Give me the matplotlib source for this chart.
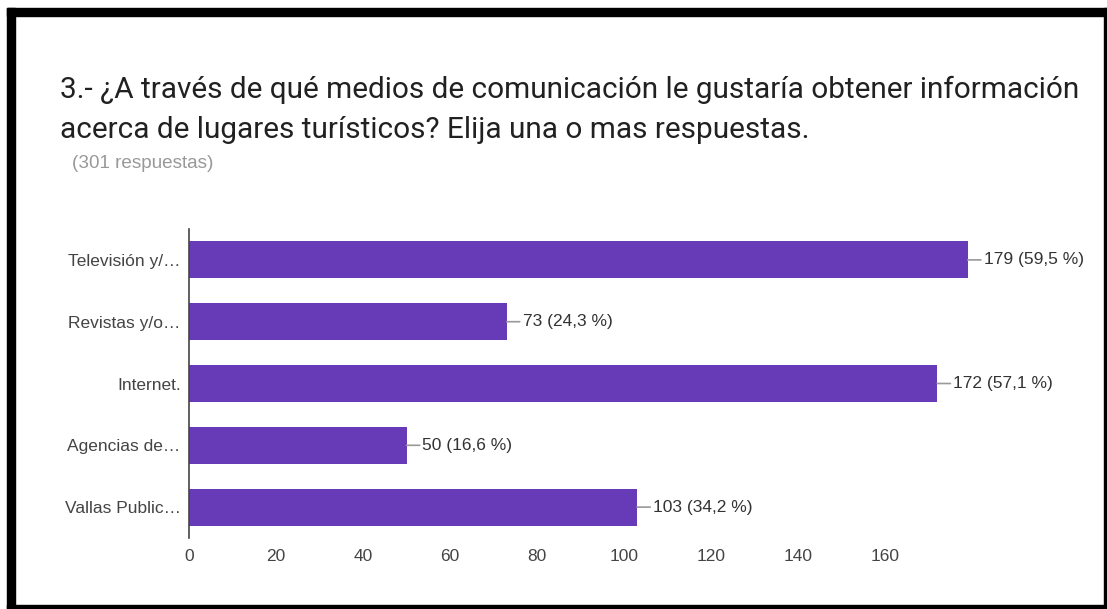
import matplotlib
matplotlib.use("Agg")
import matplotlib.pyplot as plt
from matplotlib.patches import Rectangle

categorias = ["Televisión y/…", "Revistas y/o…", "Internet.", "Agencias de…", "Vallas Public…"]
respuestas = [179, 73, 172, 50, 103]
porcentajes = ["59,5", "24,3", "57,1", "16,6", "34,2"]
ticks_x = [0, 20, 40, 60, 80, 100, 120, 140, 160]

titulo = ["3.- ¿A través de qué medios de comunicación le gustaría obtener información",
          "acerca de lugares turísticos? Elija una o mas respuestas."]
subtitulo = "(301 respuestas)"

W, H = 1107, 609
fig = plt.figure(figsize=(W / 100, H / 100), dpi=100)
fig.patch.set_facecolor("white")

# axes placed in pixel coords of the reference
x0, x1 = 189, 189 + 190 * 4.35
y_top, y_bot = 229, 538
ax = fig.add_axes([x0 / W, 1 - y_bot / H, (x1 - x0) / W, (y_bot - y_top) / H])

pos = list(range(len(categorias)))
ax.barh(pos, respuestas, height=0.6, color="#673AB7")
ax.set_ylim(len(categorias) - 0.5, -0.5)
ax.set_xlim(0, 190)

ax.set_yticks(pos)
ax.set_yticklabels(categorias, fontsize=12.5, color="#444444", family="Liberation Sans")
ax.set_xticks(ticks_x)
ax.set_xticklabels([str(t) for t in ticks_x], fontsize=12.5, color="#444444",
                   family="Liberation Sans")
ax.tick_params(axis="both", length=0)
ax.tick_params(axis="y", pad=6)
ax.tick_params(axis="x", pad=8)
for s in ["top", "right", "bottom"]:
    ax.spines[s].set_visible(False)
ax.spines["left"].set_color("#444444")
ax.spines["left"].set_linewidth(1.2)

for i, (v, p) in enumerate(zip(respuestas, porcentajes)):
    ax.annotate(f"{v} ({p} %)", xy=(v, i), xytext=(16, 0), textcoords="offset pixels",
                va="center", ha="left", fontsize=12.5, color="#333333",
                family="Liberation Sans",
                arrowprops=dict(arrowstyle="-", color="#999999", lw=1.2,
                                shrinkA=0, shrinkB=0))

for linea, base in zip(titulo, [98, 138]):
    fig.text(60 / W, 1 - base / H, linea, fontsize=21.4, family="Roboto",
             color="#212121", va="baseline", ha="left")
fig.text(72 / W, 1 - 168 / H, subtitulo, fontsize=13.6, family="Liberation Sans",
         color="#999999", va="baseline", ha="left")

# black frame around the screenshot
frame = [
    (7, 8, 8, H - 8),      # left
    (7, 8, W - 7, 8),      # top
    (1104, 8, 3, H - 8),   # right
    (7, 605, W - 7, 3),    # bottom
]
for fx, fy, fw, fh in frame:
    fig.patches.append(Rectangle((fx / W, 1 - (fy + fh) / H), fw / W, fh / H,
                                 transform=fig.transFigure, color="black", zorder=10))

fig.savefig("out.png", dpi=100)
